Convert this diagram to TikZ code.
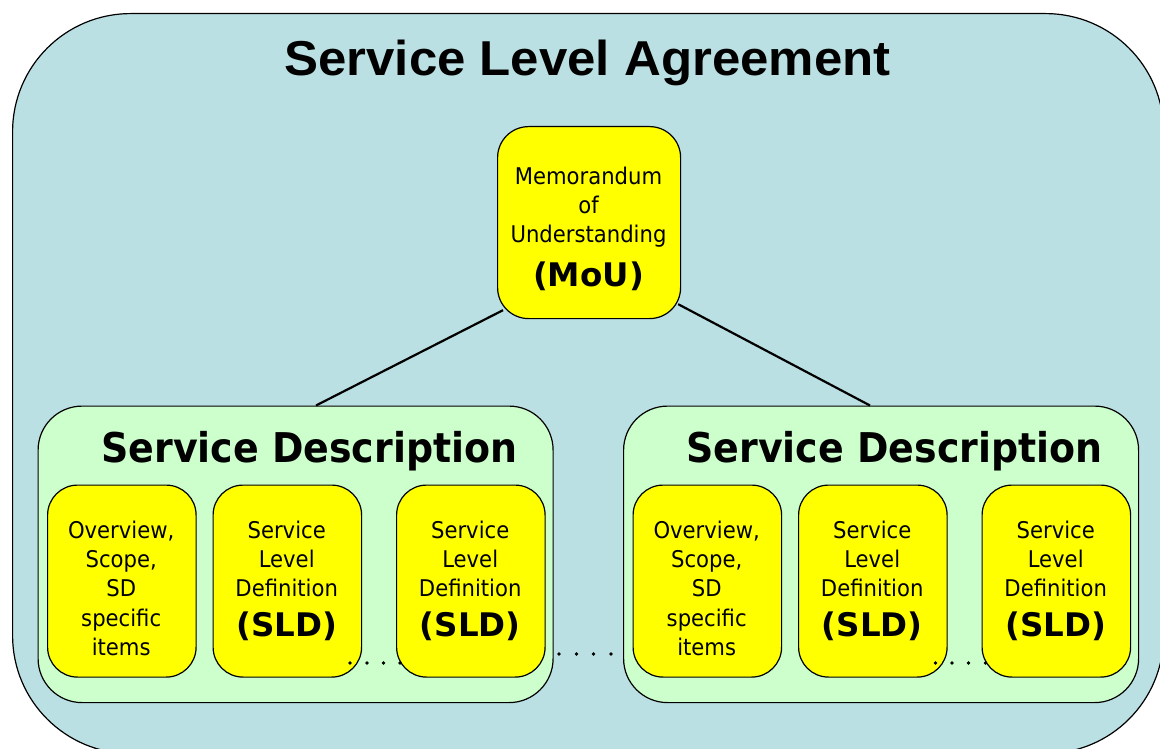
\documentclass[tikz,border=0pt]{standalone}
\usepackage{fontspec}
\usetikzlibrary{calc}
\newfontfamily\titlefont[FakeStretch=1.04]{Liberation Sans}
\newfontfamily\tahfont[FakeStretch=0.92]{DejaVu Sans}
\newfontfamily\boldfont{DejaVu Sans}
\newfontfamily\sdfont[FakeStretch=0.925]{DejaVu Sans}
\definecolor{slablue}{RGB}{187,224,227}
\definecolor{sdgreen}{RGB}{204,255,204}
\definecolor{boxyellow}{RGB}{255,255,0}
\newcommand{\bigbold}[1]{{\boldfont\bfseries\fontsize{32.5pt}{32.5pt}\selectfont #1}}
\begin{document}
\begin{tikzpicture}[x=1pt,y=-1pt,
  outerbox/.style={draw=black, line width=1.2pt, fill=slablue, rounded corners=118pt, rectangle, anchor=north west, inner sep=0pt, minimum width=1151pt, minimum height=740pt},
  sdbox/.style={draw=black, line width=1.2pt, fill=sdgreen, rounded corners=44pt, rectangle, anchor=north west, inner sep=0pt, minimum width=515pt, minimum height=296.5pt},
  ybox/.style={draw=black, line width=1.2pt, fill=boxyellow, rounded corners=30pt, rectangle, anchor=north west, inner sep=0pt, minimum width=148.5pt, minimum height=192pt},
  mobox/.style={draw=black, line width=1.2pt, fill=boxyellow, rounded corners=31pt, rectangle, anchor=north west, inner sep=0pt, minimum width=183pt, minimum height=192pt},
  txt/.style={align=center, inner sep=0pt, anchor=north, font=\tahfont\fontsize{23pt}{29.3pt}\selectfont},
  titletxt/.style={inner sep=0pt, anchor=base, font=\titlefont\bfseries\fontsize{49pt}{49pt}\selectfont},
  sdtxt/.style={inner sep=0pt, anchor=base, font=\sdfont\bfseries\fontsize{41pt}{41pt}\selectfont},
  conn/.style={draw=black, line width=2.2pt},
  dotmark/.style={circle, fill=black, inner sep=0pt, minimum size=3.6pt}
]
\useasboundingbox (0,0) rectangle (1160,749);
\clip (0,0) rectangle (1160,749);

% outer SLA box
\node[outerbox] (sla) at (12,13) {};
\node[titletxt] (slatitle) at (587.5,76) {Service Level Agreement};

% MoU
\node[mobox] (mou) at (497,126) {};
\node[txt] (moutxt) at (588.5,166.5) {Memorandum\\of\\Understanding\\[13pt]\bigbold{(MoU)}};

% Service Description boxes
\node[sdbox] (sdL) at (37.5,405.5) {};
\node[sdbox] (sdR) at (623,405.5) {};
\node[sdtxt] (sdLtitle) at (309.4,462) {Service Description};
\node[sdtxt] (sdRtitle) at (894.5,462) {Service Description};

% connectors
\draw[conn] ($(mou.south west)+(6,-9)$) -- ($(sdL.north west)+(278.5,0)$);
\draw[conn] ($(mou.south east)+(-3,-15)$) -- ($(sdR.north west)+(247,0)$);

% yellow boxes
\foreach \s/\xo in {L/0, R/585.5}{
  \node[ybox] (ov\s) at (47+\xo,484.5) {};
  \node[ybox] (slda\s) at (212.5+\xo,484.5) {};
  \node[ybox] (sldb\s) at (396+\xo,484.5) {};
  \node[txt] (ovt\s) at (121.2+\xo,520.5) {Overview,\\Scope,\\SD\\specific\\items};
  \node[txt] (sldat\s) at (286.7+\xo,520.5) {Service\\Level\\Definition\\[10pt]\bigbold{(SLD)}};
  \node[txt] (sldbt\s) at (470.2+\xo,520.5) {Service\\Level\\Definition\\[10pt]\bigbold{(SLD)}};
}

% dots
\foreach \i/\x/\y in {1/350/663, 2/367/663, 3/383.5/663, 4/400/663,
                      5/559/654, 6/576.5/654, 7/593.5/654, 8/611/654,
                      9/935.5/663, 10/952/663, 11/968.5/663, 12/985.5/663}{
  \node[dotmark] (dot\i) at (\x,\y) {};
}
\end{tikzpicture}
\end{document}
